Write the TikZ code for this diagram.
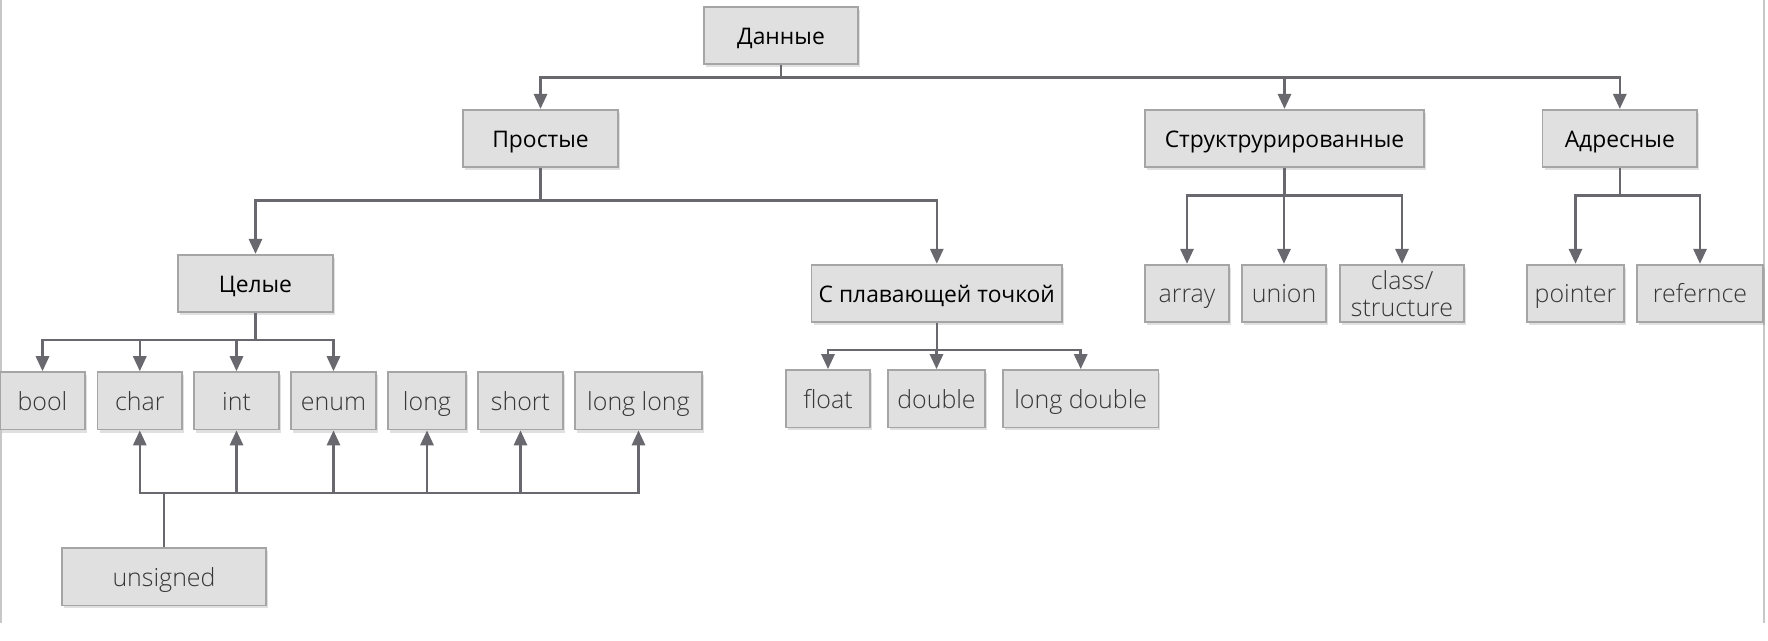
\documentclass[tikz,border=0pt]{standalone}
\usepackage{fontspec}
\setmainfont{Open Sans}
\newfontfamily\rufont{Open Sans}
\newfontfamily\enfont{Open Sans Light}
\usetikzlibrary{arrows.meta,shadows}
\definecolor{boxfill}{RGB}{224,224,224}
\definecolor{boxline}{RGB}{165,165,165}
\definecolor{conn}{RGB}{104,104,110}
\definecolor{entext}{RGB}{55,55,55}
\begin{document}
\begin{tikzpicture}[x=0.02cm,y=-0.02cm,
  box/.style={draw=boxline,fill=boxfill,line width=1pt,minimum height=57.5*0.02cm,
    inner sep=0pt,drop shadow={shadow xshift=0.04cm,shadow yshift=-0.06cm,fill=black,opacity=0.12}},
  w/.style={minimum width=#1*0.02cm},
  rubox/.style={box,font=\rufont\fontsize{13}{15}\selectfont,text height=10.8pt,text depth=0pt},
  enbox/.style={box,font=\enfont\fontsize{14.2}{15.5}\selectfont,text=entext,align=center},
  enone/.style={enbox,text height=13.6pt,text depth=3pt},
  arr/.style={draw=conn,line width=1.4pt,-{Triangle[length=8.5pt,width=7.5pt]}},
  ln/.style={draw=conn,line width=1.4pt}]
\useasboundingbox (0,0) rectangle (1768,640);
\draw[black!22,line width=0.6pt] (1,0) -- (1,623);
\draw[black!22,line width=0.6pt] (1764,0) -- (1764,623);
% level 0/1
\node[rubox,w=154.5] (dan) at (781,35.5) {Данные};
\node[rubox,w=154.6] (prost) at (540.5,138.5) {Простые};
\node[rubox,w=278.5] (struct) at (1284.5,138.5) {Структрурированные};
\node[rubox,w=154.5] (adr) at (1619.8,138.5) {Адресные};
% level 2
\node[rubox,w=154.6] (cel) at (255.5,283.5) {Целые};
\node[rubox,w=250.5] (plav) at (936.8,293.4) {С плавающей точкой};
\node[enone,w=83.5] (array) at (1187,293.4) {array};
\node[enone,w=84] (union) at (1284,293.4) {union};
\node[enbox,w=124.7] (class) at (1402,293.4) {class/\\structure};
\node[enone,w=97] (pointer) at (1575.5,293.4) {pointer};
\node[enone,w=126] (ref) at (1700,293.4) {refernce};
% level 3
\node[enone,w=85] (bool) at (42.5,400.8) {bool};
\node[enone,w=84.5] (char) at (139.8,400.8) {char};
\node[enone,w=85] (int) at (236.5,400.8) {int};
\node[enone,w=85] (enum) at (333.5,400.8) {enum};
\node[enone,w=78] (long) at (427,400.8) {long};
\node[enone,w=85] (short) at (520.5,400.8) {short};
\node[enone,w=127] (longlong) at (638.5,400.8) {long long};
\node[enone,w=84] (float) at (828,398.7) {float};
\node[enone,w=97] (double) at (936.5,398.7) {double};
\node[enone,w=155.5] (longdouble) at (1080.7,398.7) {long double};
\node[enone,w=204] (uns) at (164,576.7) {unsigned};
% connectors
\foreach \t in {prost,struct,adr}
  \draw[arr] (dan.south) -- ++(0,12.4) -| (\t.north);
\foreach \t in {cel,plav}
  \draw[arr] (prost.south) -- ++(0,32.5) -| (\t.north);
\foreach \t in {bool,char,int,enum}
  \draw[arr] (cel.south) -- ++(0,27) -| (\t.north);
\foreach \t in {float,double,longdouble}
  \draw[arr] (plav.south) -- ++(0,27) -| (\t.north);
\foreach \t in {array,union,class}
  \draw[arr] (struct.south) -- ++(0,27.5) -| (\t.north);
\foreach \t in {pointer,ref}
  \draw[arr] (adr.south) -- ++(0,27.5) -| (\t.north);
\foreach \t in {char,int,enum,long,short,longlong}
  \draw[arr] (uns.north) -- ++(0,-54) -| (\t.south);
\end{tikzpicture}
\end{document}
